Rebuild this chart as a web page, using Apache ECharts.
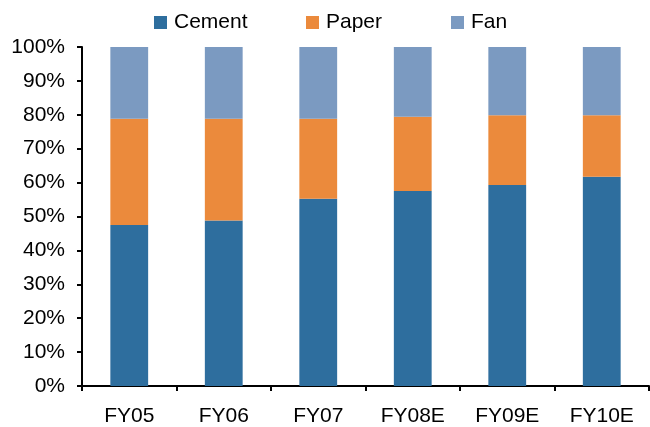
<!DOCTYPE html>
<html>
<head>
<meta charset="utf-8">
<script src="https://cdn.jsdelivr.net/npm/echarts@6/dist/echarts.min.js"></script>
<style>
html,body{margin:0;padding:0;background:#fff;}
#chart{width:650px;height:427px;}
</style>
</head>
<body>
<div id="chart"></div>
<script>
var categories = ['FY05', 'FY06', 'FY07', 'FY08E', 'FY09E', 'FY10E'];
var cement = [47.5, 48.8, 55.2, 57.5, 59.3, 61.7];
var paper = [31.3, 30.0, 23.6, 21.9, 20.6, 18.2];
var fan = [21.2, 21.2, 21.2, 20.6, 20.1, 20.1];
var yTicks = { min: 0, max: 100, step: 10 };

var FONT = '"Liberation Sans", Arial, sans-serif';
var colors = { Cement: '#2E6E9E', Paper: '#EB8A3C', Fan: '#7B9AC1' };

function legendAt(name, left) {
  return {
    data: [name], left: left, top: 7, itemWidth: 13, itemHeight: 13, itemGap: 0,
    icon: 'rect', selectedMode: false,
    textStyle: { fontFamily: FONT, fontSize: 21, color: '#000', padding: [0, 0, 0, 2] }
  };
}

var chart = echarts.init(document.getElementById('chart'));
chart.setOption({
  animation: false,
  textStyle: { fontFamily: FONT },
  legend: [legendAt('Cement', 149), legendAt('Paper', 301), legendAt('Fan', 446)],
  grid: { left: 82, right: 1, top: 47, bottom: 41, containLabel: false },
  xAxis: {
    type: 'category', data: categories, boundaryGap: true,
    axisLine: { lineStyle: { color: '#000', width: 2 } },
    axisTick: { show: true, length: 5, inside: false, lineStyle: { color: '#000', width: 2 } },
    axisLabel: { fontFamily: FONT, fontSize: 21, color: '#000', margin: 20 }
  },
  yAxis: {
    type: 'value', min: yTicks.min, max: yTicks.max, interval: yTicks.step,
    axisLine: { show: true, lineStyle: { color: '#000', width: 2 } },
    axisTick: { show: true, length: 5, lineStyle: { color: '#000', width: 2 } },
    splitLine: { show: false },
    axisLabel: { fontFamily: FONT, fontSize: 21, color: '#000', margin: 17, formatter: '{value}%' }
  },
  series: [
    { name: 'Cement', type: 'bar', stack: 's', data: cement, barWidth: '40%', itemStyle: { color: colors.Cement } },
    { name: 'Paper', type: 'bar', stack: 's', data: paper, barWidth: '40%', itemStyle: { color: colors.Paper } },
    { name: 'Fan', type: 'bar', stack: 's', data: fan, barWidth: '40%', itemStyle: { color: colors.Fan } }
  ]
});
</script>
</body>
</html>
